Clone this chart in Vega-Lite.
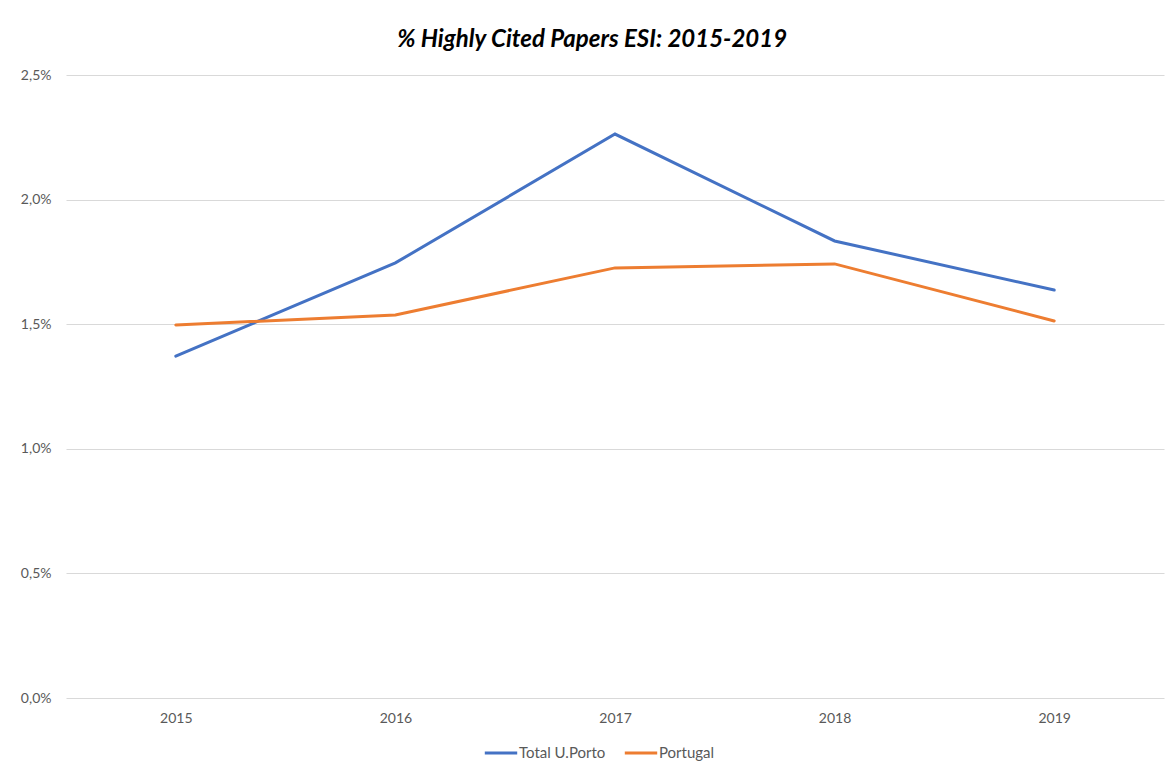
{
  "$schema": "https://vega.github.io/schema/vega-lite/v6.json",
  "autosize": "none",
  "width": 1098,
  "height": 623,
  "padding": {"left": 66, "top": 75, "right": 6, "bottom": 72},
  "background": "white",
  "title": {
    "text": "% Highly Cited Papers ESI: 2015-2019",
    "fontSize": 24,
    "fontWeight": "bold",
    "fontStyle": "italic",
    "font": "Lato",
    "color": "#000000",
    "anchor": "middle",
    "frame": "bounds",
    "offset": 16
  },
  "data": {
    "values": [
      {"year": "2015", "series": "Total U.Porto", "value": 0.01372},
      {"year": "2016", "series": "Total U.Porto", "value": 0.01746},
      {"year": "2017", "series": "Total U.Porto", "value": 0.02263},
      {"year": "2018", "series": "Total U.Porto", "value": 0.01834},
      {"year": "2019", "series": "Total U.Porto", "value": 0.01637},
      {"year": "2015", "series": "Portugal", "value": 0.01497},
      {"year": "2016", "series": "Portugal", "value": 0.01537},
      {"year": "2017", "series": "Portugal", "value": 0.01726},
      {"year": "2018", "series": "Portugal", "value": 0.01742},
      {"year": "2019", "series": "Portugal", "value": 0.01513}
    ]
  },
  "mark": {"type": "line", "strokeWidth": 3, "strokeCap": "round"},
  "encoding": {
    "x": {
      "field": "year",
      "type": "ordinal",
      "scale": {"type": "point", "padding": 0.5},
      "axis": {
        "title": null,
        "labelAngle": 0,
        "domain": false,
        "ticks": false,
        "grid": false,
        "labelPadding": 13,
        "labelFontSize": 14,
        "labelFont": "Lato",
        "labelColor": "#595959"
      }
    },
    "y": {
      "field": "value",
      "type": "quantitative",
      "scale": {"domain": [0, 0.025], "nice": false},
      "axis": {
        "title": null,
        "values": [0, 0.005, 0.01, 0.015, 0.02, 0.025],
        "labelExpr": "replace(format(datum.value, '.1%'), '.', ',')",
        "domain": false,
        "ticks": false,
        "gridColor": "#d9d9d9",
        "gridWidth": 1,
        "labelPadding": 15,
        "labelFontSize": 14,
        "labelFont": "Lato",
        "labelColor": "#595959"
      }
    },
    "color": {
      "field": "series",
      "type": "nominal",
      "scale": {"domain": ["Total U.Porto", "Portugal"], "range": ["#4472C4", "#ED7D31"]},
      "legend": {
        "title": null,
        "orient": "none",
        "legendX": 417,
        "legendY": 660,
        "direction": "horizontal",
        "symbolType": "stroke",
        "symbolStrokeWidth": 3,
        "symbolSize": 1050,
        "labelFontSize": 15,
        "labelFont": "Lato",
        "labelColor": "#595959",
        "labelOffset": 0,
        "columnPadding": 12
      }
    }
  },
  "config": {"view": {"stroke": null}}
}
